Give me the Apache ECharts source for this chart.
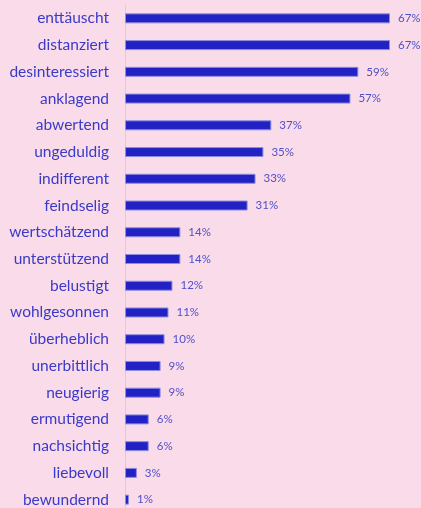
<!DOCTYPE html>
<html>
<head>
<meta charset="utf-8">
<script src="https://cdn.jsdelivr.net/npm/echarts@6/dist/echarts.min.js"></script>
<style>
html,body{margin:0;padding:0;background:#fadbea;overflow:hidden;}
#chart{width:421px;height:520px;}
</style>
</head>
<body>
<div id="chart"></div>
<script>

// categories, top to bottom
const categories = [
"enttäuscht","distanziert","desinteressiert","anklagend","abwertend",
"ungeduldig","indifferent","feindselig","wertschätzend","unterstützend",
"belustigt","wohlgesonnen","überheblich","unerbittlich","neugierig",
"ermutigend","nachsichtig","liebevoll","bewundernd"
];

// percent values
const values = [67,67,59,57,37,35,33,31,14,14,12,11,10,9,9,6,6,3,1];


const chart = echarts.init(document.getElementById("chart"));

chart.setOption({

backgroundColor:"#fadbea",

grid:{
left:125,
right:31,
top:5,
height:508
},

xAxis:{
type:"value",
min:0,
max:67,
show:false
},

yAxis:{
type:"category",
inverse:true,
data:categories,
axisLine:{show:true,lineStyle:{color:"#d6d0d4",width:1}},
axisTick:{show:false},
axisLabel:{
color:"#3a3ac8",
fontFamily:"Lato",
fontSize:15.5,
margin:16
}
},

series:[{
type:"bar",
data:values,
barWidth:10,
itemStyle:{
color:"#2222c4",
borderColor:"#8c8ce0",
borderWidth:1
},
label:{
show:true,
position:"right",
distance:8,
formatter:"{c}%",
color:"#5050c8",
fontFamily:"Lato",
fontSize:11.5
},
animation:false
}]

});

</script>
</body>
</html>
